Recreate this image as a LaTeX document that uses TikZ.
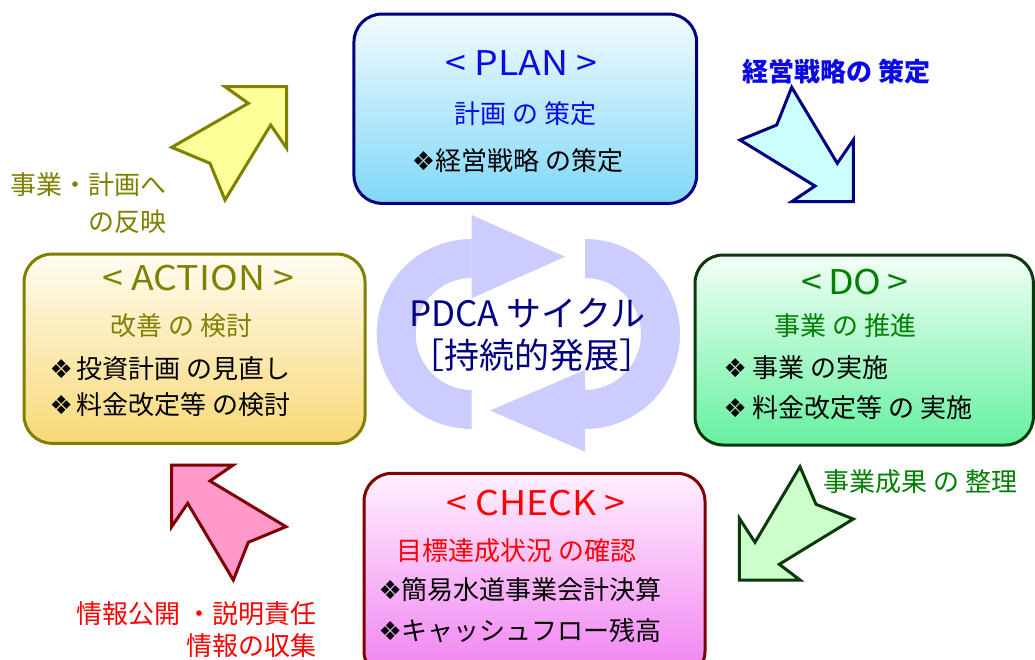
\documentclass[tikz,border=0pt]{standalone}
\usepackage{fontspec}
\setmainfont{Noto Sans CJK JP}
\newfontfamily\dvfont{DejaVu Sans}
\newfontfamily\ttlfont[FakeStretch=1.1]{Noto Sans CJK JP}
\definecolor{pblue}{HTML}{0A0AE6}
\definecolor{pnavy}{HTML}{000080}
\definecolor{dgreen}{HTML}{008000}
\definecolor{dkgreen}{HTML}{0A3A0A}
\definecolor{cred}{HTML}{FF0000}
\definecolor{dred}{HTML}{800000}
\definecolor{olive}{HTML}{808000}
\definecolor{cyc}{HTML}{CCCCFF}
\newcommand{\dia}{{\dvfont\fontsize{26}{26}\selectfont ❖}}
\tikzset{
  box/.style={draw, line width=3pt, rounded corners=28pt, inner sep=0pt},
  jp/.style={font=\fontsize{26}{30}\selectfont, inner sep=0pt},
  jpb/.style={font=\bfseries\fontsize{26}{30}\selectfont, inner sep=0pt},
  ttl/.style={font=\ttlfont\fontsize{34}{38}\selectfont, inner sep=0pt},
  ctr/.style={font=\fontsize{35}{40}\selectfont, inner sep=0pt, text=pnavy},
  blk/.style={line width=3pt},
}
\begin{document}
\begin{tikzpicture}[x=1pt,y=-1pt]
\useasboundingbox (0,0) rectangle (1035,660);
\clip (0,0) rectangle (1035,660);
\fill[white] (0,0) rectangle (1035,660);

% central cycle
\fill[cyc] (471.7,239) arc[start angle=270, end angle=90, radius=95]
  -- (471.7,390) arc[start angle=90, end angle=270, radius=56] -- cycle;
\fill[cyc] (471.7,215) -- (565,256.7) -- (471.7,298.3) -- cycle;
\fill[cyc] (585,239) arc[start angle=270, end angle=450, radius=95]
  -- (585,390) arc[start angle=90, end angle=-90, radius=56] -- cycle;
\fill[cyc] (585,370) -- (490,410.5) -- (585,451.7) -- cycle;

% boxes
\node[box, draw=pnavy, top color={rgb,255:red,242;green,250;blue,255}, bottom color={rgb,255:red,128;green,216;blue,248},
  minimum width=342.7pt, minimum height=189.3pt] (plan) at (525.3,108.7) {};
\node[box, draw=dkgreen, top color={rgb,255:red,242;green,255;blue,246}, bottom color={rgb,255:red,102;green,240;blue,160},
  minimum width=338.3pt, minimum height=190pt] (do) at (864.2,350) {};
\node[box, draw=dred, top color={rgb,255:red,255;green,240;blue,255}, bottom color={rgb,255:red,240;green,128;blue,240},
  minimum width=341pt, minimum height=206pt] (check) at (534.5,576.3) {};
\node[box, draw=olive, top color={rgb,255:red,255;green,252;blue,240}, bottom color={rgb,255:red,248;green,216;blue,120},
  minimum width=341pt, minimum height=189.3pt] (action) at (194.5,348.7) {};

% block arrows
\draw[blk, draw=olive, fill={rgb,255:red,255;green,255;blue,153}]
  (286.7,86.7) -- (286.7,148.3) -- (270.7,125) -- (225,200) -- (210,163.3)
  -- (171.7,147.3) -- (248.3,103.3) -- (225,86.7) -- cycle;
\draw[blk, draw=pnavy, fill={rgb,255:red,204;green,255;blue,255}]
  (791.7,87.3) -- (776.7,125) -- (740,140) -- (815,186) -- (791.7,201.7)
  -- (853.3,201.7) -- (853.3,140) -- (837.3,163.3) -- cycle;
\draw[blk, draw=dkgreen, fill={rgb,255:red,204;green,255;blue,204}]
  (800,466.7) -- (816,504.3) -- (853.3,519) -- (779.3,564.3) -- (800,580)
  -- (739.3,580) -- (739.3,518.3) -- (755,542.3) -- cycle;
\draw[blk, draw=dred, fill={rgb,255:red,255;green,153;blue,204}]
  (171.7,465) -- (233.3,465) -- (210,481) -- (286,526.7) -- (248.3,542.3)
  -- (233.3,580) -- (187.7,503.3) -- (171.7,526.7) -- cycle;

% PLAN texts
\node[ttl, text=pblue] (plant) at (521.7,63.3) {< PLAN >};
\node[jp, text=pblue] (plan1) at (525.5,114) {計画 の 策定};
\node[jp, anchor=west] (plan2) at (411.7,161) {\dia 経営戦略 の策定};

% DO texts
\node[ttl, text=dgreen] (dot) at (855,281.7) {<\,DO\,>};
\node[jp, text=dgreen] (do1) at (845.5,326) {事業 の 推進};
\node[jp, anchor=west] (do2) at (723.3,367.3) {\dia\ 事業 の実施};
\node[jp, anchor=west] (do3) at (723.3,407.3) {\dia\ 料金改定等 の 実施};

% CHECK texts
\node[ttl, text=cred] (checkt) at (535.8,503.3) {< CHECK >};
\node[jp, text=cred, anchor=west] (check1) at (396,551) {目標達成状況 の確認};
\node[jp, anchor=west] (check2) at (378.3,589.3) {\dia 簡易水道事業会計決算};
\node[jp, anchor=west] (check3) at (378.3,631) {\dia キャッシュフロー残高};

% ACTION texts
\node[ttl, text=olive] (actiont) at (198.3,278.3) {< ACTION >};
\node[jp, text=olive] (action1) at (181.7,326) {改善 の 検討};
\node[jp, anchor=west] (action2) at (49.3,368.3) {\dia\hspace{4pt}投資計画 の見直し};
\node[jp, anchor=west] (action3) at (49.3,405) {\dia\hspace{4pt}料金改定等 の検討};

% arrow labels
\node[jpb, text=pblue, anchor=west] (lplan) at (742.7,71.7) {経営戦略の 策定};
\node[jp, text=dgreen, anchor=west] (ldo) at (823.3,481.7) {事業成果 の 整理};
\node[jp, text=cred, anchor=east] (lcheck1) at (316.7,613.3) {情報公開 ・説明責任};
\node[jp, text=cred, anchor=east] (lcheck2) at (316.7,645.7) {情報の収集};
\node[jp, text=olive, anchor=east] (lact1) at (166.7,185) {事業・計画へ};
\node[jp, text=olive, anchor=east] (lact2) at (166.7,221.7) {の反映};

% centre
\node[ctr] (cyc1) at (527,313.3) {PDCA サイクル};
\node[ctr] (cyc2) at (531.7,355) {［持続的発展］};
\end{tikzpicture}
\end{document}
